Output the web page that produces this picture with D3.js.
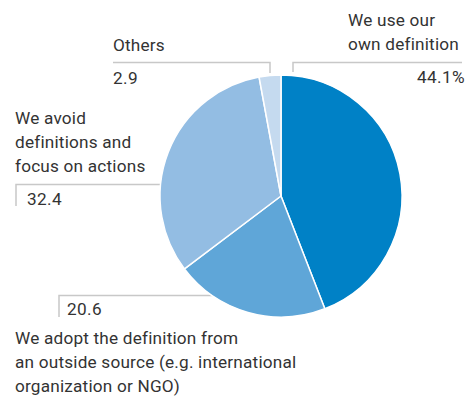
<!DOCTYPE html>
<html>
<head>
<meta charset="utf-8">
<script src="https://cdn.jsdelivr.net/npm/d3@7"></script>
<style>
  html, body { margin: 0; padding: 0; background: #fff; }
  svg text { font-family: Roboto, "Noto Sans", sans-serif; fill: #333; }
</style>
</head>
<body>
<svg id="chart" width="469" height="398"></svg>
<script>
// Survey answers, clockwise from 12 o'clock
const categories = [
  ["We use our", "own definition"],
  ["We adopt the definition from", "an outside source (e.g. international", "organization or NGO)"],
  ["We avoid", "definitions and", "focus on actions"],
  ["Others"]
];
const values = [44.1, 20.6, 32.4, 2.9];
const valueLabels = ["44.1%", "20.6", "32.4", "2.9"];
const colors = ["#0081c6", "#5fa6d8", "#93bde3", "#c5daef"];

// Label placement: text anchor point, leader line (horizontal y, from x0 to x1, tick at tickX down to tickY)
const layout = [
  { textX: 348, textY: 26, anchor: "start", valX: 465, valY: 83, valAnchor: "end",
    lineY: 62.5, lineX0: 293, lineX1: 462, tickX: 293, tickY: 72 },
  { textX: 15, textY: 344, anchor: "start", valX: 67, valY: 315, valAnchor: "start",
    lineY: 295.5, lineX0: 59, lineX1: null, tickX: 59, tickY: 317, hitPie: true },
  { textX: 15, textY: 124, anchor: "start", valX: 27, valY: 205, valAnchor: "start",
    lineY: 184.5, lineX0: 16, lineX1: null, tickX: 16, tickY: 206, hitPie: true },
  { textX: 113, textY: 51, anchor: "start", valX: 113, valY: 84, valAnchor: "start",
    lineY: 62.5, lineX0: 113, lineX1: 270, tickX: 270, tickY: 73 }
];

const svg = d3.select("#chart");
const cx = 281, cy = 196, r = 121;
const fontSize = 17.2, lineH = 24;

const pie = d3.pie().sort(null).value(d => d);
const arc = d3.arc().innerRadius(0).outerRadius(r);
const arcs = pie(values);

// Leader lines first so the pie sits on top of them
const lines = svg.append("g").attr("stroke", "#c8c8c8").attr("stroke-width", 1.5).attr("fill", "none");
layout.forEach(l => {
  let x1 = l.lineX1;
  if (l.hitPie) {
    const dy = l.lineY - cy;
    x1 = cx - Math.sqrt(r * r - dy * dy) + 2;
  }
  lines.append("path")
    .attr("d", `M${l.tickX},${l.tickY}V${l.lineY}H${l.tickX === l.lineX0 ? x1 : l.lineX0}`);
});

svg.append("g")
  .attr("transform", `translate(${cx},${cy})`)
  .selectAll("path")
  .data(arcs)
  .join("path")
  .attr("d", arc)
  .attr("fill", (d, i) => colors[i])
  .attr("stroke", "#fff")
  .attr("stroke-width", 1.5)
  .attr("stroke-linejoin", "round");

// Category names and their values
layout.forEach((l, i) => {
  const t = svg.append("text")
    .attr("x", l.textX).attr("y", l.textY)
    .attr("font-size", fontSize)
    .attr("letter-spacing", 0.2)
    .attr("text-anchor", l.anchor);
  categories[i].forEach((line, j) => {
    t.append("tspan").attr("x", l.textX).attr("y", l.textY + j * lineH).text(line);
  });
  svg.append("text")
    .attr("x", l.valX).attr("y", l.valY)
    .attr("font-size", fontSize)
    .attr("letter-spacing", 0.4)
    .attr("text-anchor", l.valAnchor)
    .text(valueLabels[i]);
});
</script>
</body>
</html>
